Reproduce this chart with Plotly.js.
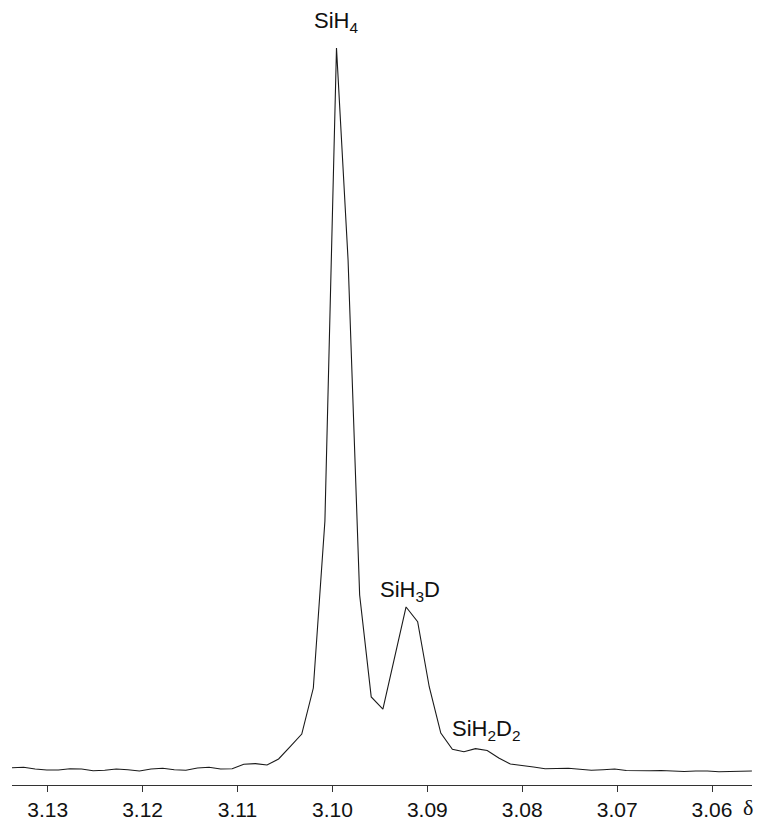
<!DOCTYPE html>
<html>
<head>
<meta charset="utf-8">
<script src="https://cdn.plot.ly/plotly-3.0.1.min.js"></script>
<style>
  html, body { margin: 0; padding: 0; background: #fff; }
  #chart { width: 765px; height: 820px; }
</style>
</head>
<body>
<div id="chart"></div>
<script>
// Chemical shift (delta, ppm) of each sampled point of the spectrum
const shiftPpm = [
  3.13376, 3.13254, 3.13132, 3.13009, 3.12887, 3.12765, 3.12643, 3.12521,
  3.12399, 3.12277, 3.12155, 3.12033, 3.11911, 3.11788, 3.11666, 3.11544,
  3.11422, 3.11300, 3.11178, 3.11056, 3.10934, 3.10812, 3.10689, 3.10567,
  3.10445, 3.10323, 3.10201, 3.10079, 3.09957, 3.09835, 3.09713, 3.09591,
  3.09468, 3.09346, 3.09224, 3.09102, 3.08980, 3.08858, 3.08736, 3.08614,
  3.08492, 3.08369, 3.08247, 3.08125, 3.08003, 3.07881, 3.07759, 3.07637,
  3.07515, 3.07393, 3.07271, 3.07148, 3.07026, 3.06904, 3.06782, 3.06660,
  3.06538, 3.06416, 3.06294, 3.06172, 3.06049, 3.05927, 3.05805, 3.05683,
  3.05580
];

// Signal intensity (relative, SiH4 peak = 100)
const intensity = [
  0.18, 0.24, 0.00, -0.14, -0.14, 0.04, 0.00, -0.24,
  -0.18, 0.00, -0.10, -0.28, 0.00, 0.10, -0.10, -0.18,
  0.14, 0.24, 0.00, 0.04, 0.65, 0.74, 0.55, 1.39,
  3.09, 4.85, 11.23, 34.40, 100.0, 70.60, 24.13, 9.99,
  8.32, 15.40, 22.47, 20.43, 11.41, 4.99, 2.73, 2.40,
  2.82, 2.57, 1.53, 0.69, 0.51, 0.28, 0.04, 0.07,
  0.10, -0.04, -0.18, -0.10, 0.00, -0.21, -0.28, -0.25,
  -0.21, -0.28, -0.35, -0.28, -0.28, -0.39, -0.35, -0.28,
  -0.28
];

// Tick positions and their labels on the shift axis
const tickValues = [3.13, 3.12, 3.11, 3.10, 3.09, 3.08, 3.07, 3.06];
const tickLabels = ["3.13", "3.12", "3.11", "3.10", "3.09", "3.08", "3.07", "3.06"];

// Isotopologue peak labels: name and the spectrum point each one sits on
const peakNames = ["SiH<sub>4</sub>", "SiH<sub>3</sub>D", "SiH<sub>2</sub>D<sub>2</sub>"];
const peakIndex = [28, 34, 40];
const peakLabelOffset = [[0, 10], [4, 0], [10, 3]];

const font = "'Liberation Sans', Arial, Helvetica, sans-serif";

const trace = {
  x: shiftPpm,
  y: intensity,
  type: "scatter",
  mode: "lines",
  line: { color: "#1a1a1a", width: 1.1 },
  hoverinfo: "x+y"
};

const annotations = peakNames.map((name, i) => ({
  x: shiftPpm[peakIndex[i]],
  y: intensity[peakIndex[i]],
  xref: "x", yref: "y",
  text: name,
  showarrow: false,
  xanchor: "center",
  yanchor: "bottom",
  xshift: peakLabelOffset[i][0],
  yshift: peakLabelOffset[i][1],
  font: { family: font, size: 22, color: "#111" }
}));

// Axis symbol for the chemical shift, just past the right end of the axis
annotations.push({
  x: 0.994, y: 0, xref: "paper", yref: "paper",
  text: "δ",
  showarrow: false,
  xanchor: "center", yanchor: "middle",
  yshift: -22,
  font: { family: "'Liberation Serif', 'Times New Roman', serif", size: 22, color: "#111" }
});

const layout = {
  width: 765,
  height: 820,
  margin: { l: 12, r: 13, t: 20, b: 35, pad: 0 },
  paper_bgcolor: "#fff",
  plot_bgcolor: "#fff",
  showlegend: false,
  font: { family: font, size: 21, color: "#111" },
  xaxis: {
    range: [3.13376, 3.05579],
    tickvals: tickValues,
    ticktext: tickLabels,
    ticks: "outside",
    ticklen: 6,
    tickwidth: 1,
    tickcolor: "#333",
    showline: true,
    linecolor: "#333",
    linewidth: 1,
    showgrid: false,
    zeroline: false,
    tickfont: { family: font, size: 21, color: "#111" }
  },
  yaxis: {
    range: [-2.219, 103.88],
    visible: false,
    showgrid: false,
    zeroline: false
  },
  annotations: annotations
};

Plotly.newPlot("chart", [trace], layout, { displayModeBar: false, staticPlot: true });
</script>
</body>
</html>
